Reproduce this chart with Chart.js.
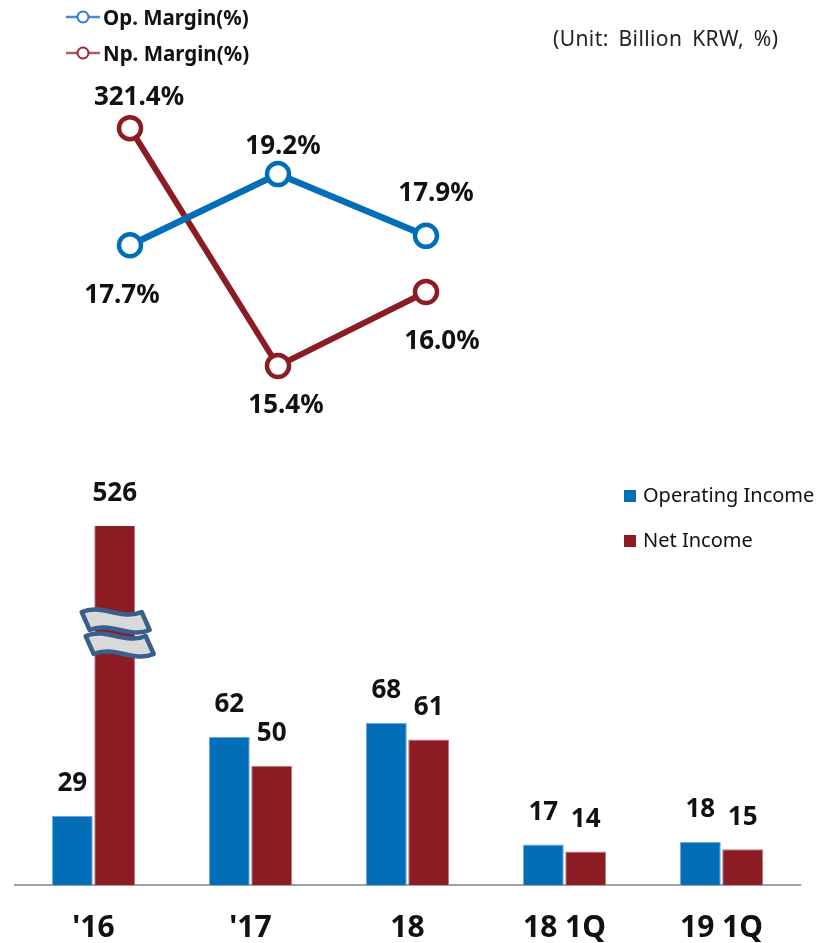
<!DOCTYPE html>
<html>
  <head>
    <meta charset="UTF-8">
    <title>Margin and Income</title>
    <script src="https://cdn.jsdelivr.net/npm/chart.js"></script>
    <style>
      body { margin: 0; background: #fff; font-family: "Noto Sans", sans-serif; }
      #wrap { position: relative; width: 831px; height: 943px; overflow: hidden; }
      #wrap canvas { position: absolute; left: 0; }
      .lg { position: absolute; left: 66px; font-weight: bold; font-size: 20.5px; color: #111; line-height: 24px; }
      .lg svg { vertical-align: middle; margin-right: 3px; position: relative; top: -2px; }
      #unit { position: absolute; left: 553px; top: 25px; font-size: 21px; color: #222; line-height: 26px; word-spacing: 4px; letter-spacing: 0.4px; }
      .bl { position: absolute; left: 624px; font-size: 20px; color: #111; line-height: 24px; }
      .bl i { display: inline-block; width: 12px; height: 12px; margin-right: 7px; }
    </style>
  </head>
  <body>
    <div id="wrap">
      <canvas id="lineChart" width="831" height="440" style="top:0"></canvas>
      <canvas id="barChart" width="831" height="503" style="top:440px"></canvas>

      <div class="lg" style="top:5px">
        <svg width="34" height="16"><line x1="0" y1="8" x2="34" y2="8" stroke="#4a8dcc" stroke-width="2.5"/><circle cx="17" cy="8" r="5.5" fill="#fff" stroke="#2f7cc2" stroke-width="2"/></svg>Op. Margin(%)
      </div>
      <div class="lg" style="top:41px">
        <svg width="34" height="16"><line x1="0" y1="8" x2="34" y2="8" stroke="#b45a60" stroke-width="2.5"/><circle cx="17" cy="8" r="5.5" fill="#fff" stroke="#9a2a33" stroke-width="2"/></svg>Np. Margin(%)
      </div>
      <div id="unit">(Unit: Billion KRW, %)</div>

      <div class="bl" style="top:483px"><i style="background:#036eb8"></i>Operating Income</div>
      <div class="bl" style="top:528px"><i style="background:#8b1c24"></i>Net Income</div>
    </div>

    <script>
      // 利益率データ
      const years = ["'16", "'17", "18"];
      const opMargin = [17.7, 19.2, 17.9];
      const npMargin = [321.4, 15.4, 16.0];

      // 利益データ（単位：十億ウォン）
      const periods = ["'16", "'17", "18", "18 1Q", "19 1Q"];
      const opIncome = [29, 62, 68, 17, 18];
      const netIncome = [526, 50, 61, 14, 15];

      const BLUE = '#036eb8';
      const RED = '#8b1c24';
      const FONT = '"Noto Sans", sans-serif';

      // ラベル位置（点からのずれ）
      const opLabelShift = [[-8, 50], [5, -27], [10, -42]];
      const npLabelShift = [[9, -31], [8, 40], [16, 50]];

      // 途中で圧縮する縦軸（大きな値を切り詰めて表示）
      class BrokenLinearScale extends Chart.LinearScale {
        getPixelForValue(value) {
          const b = this.options.breakAt;
          const r = this.options.breakRatio;
          if (value > b) value = b + (value - b) * r;
          return super.getPixelForValue(value);
        }
      }
      BrokenLinearScale.id = 'brokenLinear';
      BrokenLinearScale.defaults = {};
      Chart.register(BrokenLinearScale);

      // 折れ線の値ラベル
      const marginLabels = {
        id: 'marginLabels',
        afterDatasetsDraw(chart) {
          const ctx = chart.ctx;
          const shifts = [opLabelShift, npLabelShift];
          ctx.save();
          ctx.font = 'bold 26px ' + FONT;
          ctx.fillStyle = '#111';
          ctx.textAlign = 'center';
          ctx.textBaseline = 'middle';
          chart.data.datasets.forEach(function(ds, i) {
            chart.getDatasetMeta(i).data.forEach(function(pt, j) {
              const s = shifts[i][j];
              ctx.fillText(ds.data[j].toFixed(1) + '%', pt.x + s[0], pt.y + s[1]);
            });
          });
          ctx.restore();
        }
      };

      new Chart(document.getElementById('lineChart'), {
        type: 'line',
        data: {
          labels: years,
          datasets: [
            {
              label: 'Op. Margin(%)',
              data: opMargin,
              yAxisID: 'yOp',
              borderColor: BLUE,
              borderWidth: 6.5,
              pointRadius: 11,
              pointBorderWidth: 4.5,
              pointBackgroundColor: '#fff',
              pointBorderColor: BLUE,
              clip: false
            },
            {
              label: 'Np. Margin(%)',
              data: npMargin,
              yAxisID: 'yNp',
              borderColor: RED,
              borderWidth: 6,
              pointRadius: 11,
              pointBorderWidth: 4.5,
              pointBackgroundColor: '#fff',
              pointBorderColor: RED,
              clip: false
            }
          ]
        },
        options: {
          responsive: false,
          animation: false,
          layout: { padding: { left: 130, right: 405, top: 100, bottom: 40 } },
          plugins: { legend: { display: false }, tooltip: { enabled: false } },
          scales: {
            x: { display: false },
            yOp: { display: false, min: 14.44, max: 20.76 },
            yNp: { type: 'brokenLinear', display: false, min: 15.124, max: 17.557, breakAt: 17, breakRatio: 0.00108 }
          }
        },
        plugins: [marginLabels]
      });

      // 棒の値ラベル（上限を超える棒は軸の上端に合わせる）
      const barLabels = {
        id: 'barLabels',
        afterDatasetsDraw(chart) {
          const ctx = chart.ctx;
          const top = chart.chartArea.top;
          ctx.save();
          ctx.font = 'bold 26px ' + FONT;
          ctx.fillStyle = '#111';
          ctx.textAlign = 'center';
          ctx.textBaseline = 'middle';
          chart.data.datasets.forEach(function(ds, i) {
            chart.getDatasetMeta(i).data.forEach(function(bar, j) {
              ctx.fillText(String(ds.data[j]), bar.x, Math.max(bar.y, top) - 32);
            });
          });
          ctx.restore();
        }
      };

      // 省略記号（波線）
      function drawWave(ctx, cx, cy) {
        ctx.beginPath();
        ctx.moveTo(cx - 34, cy - 9);
        ctx.bezierCurveTo(cx - 14, cy - 18, cx + 6, cy, cx + 26, cy - 9);
        ctx.lineTo(cx + 34, cy + 9);
        ctx.bezierCurveTo(cx + 14, cy + 18, cx - 6, cy, cx - 26, cy + 9);
        ctx.closePath();
        ctx.fill();
        ctx.stroke();
      }

      const axisBreak = {
        id: 'axisBreak',
        afterDatasetsDraw(chart) {
          const ctx = chart.ctx;
          const max = chart.scales.y.max;
          const top = chart.chartArea.top;
          ctx.save();
          ctx.fillStyle = '#d9d9d9';
          ctx.strokeStyle = '#3b5f8c';
          ctx.lineWidth = 4.5;
          ctx.lineJoin = 'round';
          chart.data.datasets.forEach(function(ds, i) {
            chart.getDatasetMeta(i).data.forEach(function(bar, j) {
              if (ds.data[j] > max) {
                drawWave(ctx, bar.x + 1, top + 95);
                drawWave(ctx, bar.x + 5, top + 119);
              }
            });
          });
          ctx.restore();
        }
      };

      new Chart(document.getElementById('barChart'), {
        type: 'bar',
        data: {
          labels: periods,
          datasets: [
            {
              label: 'Operating Income',
              data: opIncome,
              backgroundColor: BLUE,
              borderColor: '#6aa9dc',
              borderWidth: 1,
              categoryPercentage: 0.54,
              barPercentage: 0.965,
              clip: 0
            },
            {
              label: 'Net Income',
              data: netIncome,
              backgroundColor: RED,
              borderColor: '#c0767c',
              borderWidth: 1,
              categoryPercentage: 0.54,
              barPercentage: 0.965,
              clip: 0
            }
          ]
        },
        options: {
          responsive: false,
          animation: false,
          layout: { padding: { left: 15, right: 31, top: 86, bottom: 0 } },
          plugins: { legend: { display: false }, tooltip: { enabled: false } },
          scales: {
            x: {
              grid: { display: false, drawTicks: false },
              border: { display: true, color: '#a0a0a0', width: 2 },
              ticks: { color: '#111', font: { family: FONT, size: 30, weight: 'bold' }, padding: 25 },
              afterFit: function(scale) { scale.height = 58; }
            },
            y: { display: false, min: 0, max: 150.4 }
          }
        },
        plugins: [barLabels, axisBreak]
      });
    </script>
  </body>
</html>
